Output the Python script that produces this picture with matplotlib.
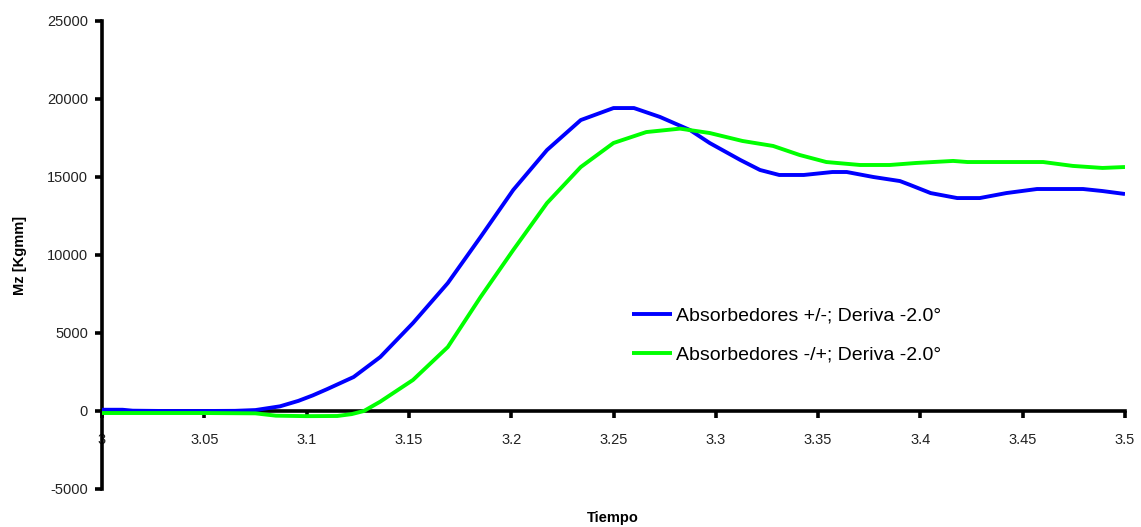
import matplotlib
matplotlib.use("Agg")
import matplotlib.pyplot as plt

plt.rcParams['font.family'] = ['Liberation Sans', 'DejaVu Sans']

# Time samples and yaw moment Mz for the two absorber configurations
t_pm = [3.0, 3.01, 3.015, 3.03, 3.05, 3.065, 3.075, 3.087, 3.096, 3.103, 3.11, 3.123,
        3.136, 3.152, 3.169, 3.185, 3.201, 3.2175, 3.234, 3.25, 3.26, 3.2727, 3.2874,
        3.297, 3.312, 3.3216, 3.331, 3.343, 3.357, 3.364, 3.377, 3.39, 3.395, 3.405,
        3.418, 3.429, 3.442, 3.457, 3.4795, 3.489, 3.5]
mz_pm = [80, 80, 20, 0, 0, 10, 60, 300, 650, 1000, 1400, 2180,
         3460, 5640, 8200, 11150, 14170, 16730, 18650, 19420, 19420, 18850, 18010,
         17180, 16090, 15450, 15130, 15130, 15320, 15320, 15000, 14740, 14490, 13970,
         13650, 13650, 13970, 14230, 14230, 14100, 13910]

t_mp = [3.0, 3.03, 3.05, 3.075, 3.085, 3.1, 3.115, 3.122, 3.128, 3.136, 3.152, 3.169,
        3.185, 3.201, 3.2175, 3.234, 3.25, 3.266, 3.2825, 3.297, 3.313, 3.328, 3.341,
        3.354, 3.3705, 3.385, 3.398, 3.416, 3.423, 3.46, 3.4745, 3.489, 3.5]
mz_mp = [-130, -130, -130, -150, -300, -330, -320, -200, 0, 600, 1990, 4100,
         7300, 10320, 13330, 15640, 17180, 17880, 18100, 17820, 17310, 16990, 16410,
         15960, 15770, 15770, 15900, 16030, 15960, 15960, 15710, 15580, 15640]

label_pm = 'Absorbedores +/-; Deriva -2.0°'
label_mp = 'Absorbedores -/+; Deriva -2.0°'

x_ticks = [3.0, 3.05, 3.1, 3.15, 3.2, 3.25, 3.3, 3.35, 3.4, 3.45, 3.5]
x_tick_labels = ['3', '3.05', '3.1', '3.15', '3.2', '3.25', '3.3', '3.35', '3.4', '3.45', '3.5']
y_ticks = [-5000, 0, 5000, 10000, 15000, 20000, 25000]
y_tick_labels = ['-5000', '0', '5000', '10000', '15000', '20000', '25000']

fig = plt.figure(figsize=(11.41, 5.27), dpi=100)
ax = fig.add_axes([102 / 1141, (527 - 489) / 527, (1125 - 102) / 1141, (489 - 21) / 527])

ax.plot(t_pm, mz_pm, color='#0000ff', lw=2.8, label=label_pm, zorder=3,
        solid_capstyle='butt', solid_joinstyle='round')
ax.plot(t_mp, mz_mp, color='#00ff00', lw=2.8, label=label_mp, zorder=3,
        solid_capstyle='butt', solid_joinstyle='round')

ax.set_xlim(3.0, 3.5)
ax.set_ylim(-5000, 25000)

for s in ['top', 'right']:
    ax.spines[s].set_visible(False)
ax.spines['left'].set_linewidth(2.6)
ax.spines['bottom'].set_linewidth(2.6)
ax.spines['bottom'].set_position(('data', 0))
ax.spines['left'].set_zorder(2)
ax.spines['bottom'].set_zorder(2)

ax.set_xticks(x_ticks)
ax.set_xticklabels(x_tick_labels)
ax.set_yticks(y_ticks)
ax.set_yticklabels(y_tick_labels)
ax.tick_params(axis='both', direction='out', length=5, width=2.6, labelsize=10.5,
               colors='black', labelcolor='#222222')
ax.tick_params(axis='x', pad=11)
ax.tick_params(axis='y', pad=5)

fig.text(613 / 1141, 1 - 518 / 527, 'Tiempo', fontsize=10.5, fontweight='bold',
         ha='center', va='center')
fig.text(20 / 1141, 1 - 255 / 527, 'Mz [Kgmm]', fontsize=10.5, fontweight='bold',
         ha='center', va='center', rotation=90)

ax.legend(loc='upper left', bbox_to_anchor=((628 - 102) / 1023, (489 - 303) / 468),
          frameon=False, fontsize=14, handlelength=2.06, handletextpad=0.2,
          labelspacing=1.12, borderaxespad=0, borderpad=0.2)

fig.savefig('out.png', dpi=100)
